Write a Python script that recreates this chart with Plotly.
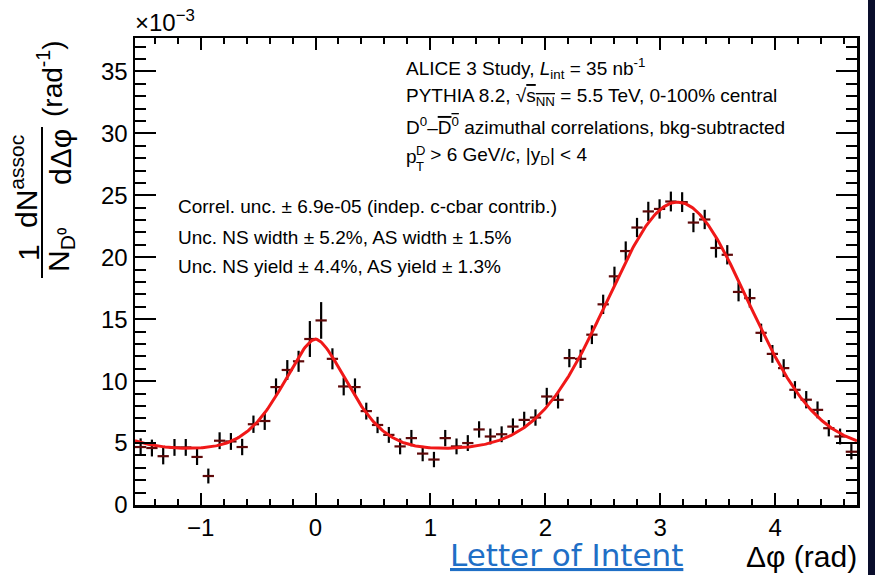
import numpy as np
import plotly.graph_objects as go

# ---------------- data ----------------
n_bins = 64
phi_min, phi_max = -np.pi / 2, 3 * np.pi / 2
yield_vals = [4.68, 4.60, 3.94, 4.65, 4.65, 3.88, 2.34, 5.19, 5.13, 4.68,
              6.52, 6.78, 9.52, 10.9, 11.6, 13.4, 14.9, 11.8, 9.57, 9.52,
              7.58, 6.46, 5.66, 4.73, 5.40, 4.15, 3.67, 5.40, 4.73, 5.00,
              6.10, 5.53, 5.71, 6.33, 6.87, 7.06, 8.76, 8.49, 11.86, 11.80,
              13.75, 16.2, 18.46, 20.5, 22.4, 23.7, 23.9, 24.5, 24.45, 22.8,
              23.05, 20.75, 20.2, 17.2, 16.7, 13.9, 12.2, 11.05, 9.3, 8.5,
              7.68, 6.2, 5.53, 4.3]
yield_errs = [0.70, 0.68, 0.66, 0.68, 0.68, 0.65, 0.60, 0.68, 0.68, 0.66,
              0.70, 0.72, 0.70, 0.80, 0.85, 1.45, 1.48, 0.85, 0.72, 0.70,
              0.68, 0.66, 0.64, 0.64, 0.66, 0.62, 0.62, 0.66, 0.64, 0.64,
              0.66, 0.64, 0.64, 0.66, 0.66, 0.66, 0.70, 0.70, 0.74, 0.74,
              0.76, 0.78, 0.78, 0.78, 0.78, 0.78, 0.78, 0.80, 0.80, 0.78,
              0.78, 0.78, 0.78, 0.76, 0.76, 0.74, 0.72, 0.72, 0.70, 0.70,
              0.68, 0.66, 0.64, 0.62]
x_ticks = [-1, 0, 1, 2, 3, 4]
y_ticks = [0, 5, 10, 15, 20, 25, 30, 35]

# fit parameters (periodic generalised Gaussians + baseline)
fit_base = 4.45
ns_amp, ns_alpha, ns_beta, ns_mu = 8.95, 0.4175, 1.665, 0.0
as_amp, as_alpha, as_beta, as_mu = 20.0, 0.86, 2.0, 3.15

bin_w = (phi_max - phi_min) / n_bins
phi_centers = phi_min + (np.arange(n_bins) + 0.5) * bin_w


def gen_gauss(x, a, alpha, beta, mu):
    out = 0
    for k in (-1, 0, 1):
        out = out + a * np.exp(-np.abs((x - mu + 2 * np.pi * k) / alpha) ** beta)
    return out


phi_fit = np.linspace(phi_min, phi_max, 600)
fit_vals = fit_base + gen_gauss(phi_fit, ns_amp, ns_alpha, ns_beta, ns_mu) \
    + gen_gauss(phi_fit, as_amp, as_alpha, as_beta, as_mu)

# ---------------- layout geometry (screen pixels) ----------------
SW, SH = 875, 575     # figure size (page margin removed below)
L, R, T, B = 135, 857, 38, 505
y_top = 37.7


def px(x):
    return (x - L) / (R - L)


def py(y):
    return (B - y) / (B - T)


FONT = "Liberation Sans"

fig = go.Figure()

fig.add_trace(go.Scatter(
    x=phi_centers, y=yield_vals, mode="markers",
    marker=dict(size=1, color="rgba(0,0,0,0)"),
    error_y=dict(type="data", array=yield_errs, visible=True, color="black",
                 thickness=2.2, width=0),
    error_x=dict(type="constant", value=bin_w / 2, visible=True, color="#5e0808",
                 thickness=2.2, width=0),
    showlegend=False, hoverinfo="skip"))

fig.add_trace(go.Scatter(
    x=phi_fit, y=fit_vals, mode="lines",
    line=dict(color="#f01818", width=3), showlegend=False, hoverinfo="skip"))

axis_common = dict(showline=True, linewidth=2.5, linecolor="black", mirror="ticks",
                   ticks="inside", tickcolor="black", tickwidth=2,
                   showgrid=False, zeroline=False,
                   tickfont=dict(family=FONT, size=24, color="black"))

fig.update_layout(
    width=SW, height=SH,
    margin=dict(l=L, r=SW - R, t=T, b=SH - B, pad=0),
    paper_bgcolor="white", plot_bgcolor="white",
    xaxis=dict(range=[phi_min, phi_max], tickvals=x_ticks, ticklen=12,
               minor=dict(dtick=0.2, tick0=0, ticklen=6, tickwidth=2,
                          tickcolor="black", ticks="inside", showgrid=False),
               **axis_common),
    yaxis=dict(range=[0, y_top], tickvals=y_ticks, ticklen=21,
               minor=dict(dtick=1, tick0=0, ticklen=11, tickwidth=2,
                          tickcolor="black", ticks="inside", showgrid=False),
               **axis_common),
)

ann = []
tf = dict(family=FONT, size=19, color="black")


def add_text(text, x, y, xanchor="left", yanchor="middle", font=None, angle=0):
    ann.append(dict(text=text, x=px(x), y=py(y), xref="paper", yref="paper",
                    xanchor=xanchor, yanchor=yanchor, showarrow=False,
                    font=font or tf, textangle=angle))


ov = "<span style='text-decoration:overline'>"
add_text("ALICE 3 Study, <i>L</i><sub>int</sub> = 35 nb<sup>-1</sup>", 404, 68)
add_text("PYTHIA 8.2, \u221a" + ov + "s<sub>NN</sub></span> = 5.5 TeV, 0-100% central", 404, 97)
add_text("D<sup>0</sup>\u2013" + ov + "D<sup>0</sup></span> azimuthal correlations, bkg-subtracted", 404, 126)
add_text("p", 404, 156)
add_text("D", 414, 150, font=dict(family=FONT, size=13, color="black"))
add_text("T", 414, 166, font=dict(family=FONT, size=13, color="black"))
add_text(" > 6 GeV/<i>c</i>, |y<sub>D</sub>| < 4", 423, 156)

add_text("Correl. unc. \u00b1 6.9e-05 (indep. c-cbar contrib.)", 176, 206)
add_text("Unc. NS width \u00b1 5.2%, AS width \u00b1 1.5%", 176, 237)
add_text("Unc. NS yield \u00b1 4.4%, AS yield \u00b1 1.3%", 176, 266)

add_text("\u00d710<sup>\u22123</sup>", 133, 21, font=dict(family=FONT, size=24, color="black"))

# x-axis title
add_text("\u0394\u03c6 (rad)", 859, 556, xanchor="right",
         font=dict(family=FONT, size=30, color="black"))
# Letter of intent link text
add_text("<u>Letter of Intent</u>", 566, 555, xanchor="center",
         font=dict(family="DejaVu Sans", size=31, color="#1f6fc6"))

# y-axis title, built as two rotated fractions
yt = dict(family=FONT, size=30, color="black")
add_text("1", 28, 253, xanchor="center", font=yt, angle=-90)
add_text("N<sub>D\u2070</sub>", 60, 250, xanchor="center", font=yt, angle=-90)
add_text("dN<sup>assoc</sup>", 24, 182, xanchor="center", font=yt, angle=-90)
add_text("d\u0394\u03c6", 60, 157, xanchor="center", font=yt, angle=-90)
add_text("(rad<sup>-1</sup>)", 50, 79, xanchor="center",
         font=dict(family=FONT, size=28, color="black"), angle=-90)

fig.update_layout(annotations=ann)

shapes = [
    dict(type="line", xref="paper", yref="paper", x0=px(42), x1=px(42),
         y0=py(127), y1=py(278), line=dict(color="black", width=2)),
    # navy strip at right edge of the screenshot
    dict(type="rect", xref="paper", yref="paper", x0=px(868), x1=px(900),
         y0=py(-20), y1=py(600), fillcolor="#0a0e2c", line=dict(width=0),
         layer="above"),
]
fig.update_layout(shapes=shapes)

fig.write_html(
    "out.html",
    config={"displayModeBar": False, "staticPlot": True},
    post_script="document.body.style.margin='0';"
                "document.body.style.overflow='hidden';"
                "document.documentElement.style.overflow='hidden';")
